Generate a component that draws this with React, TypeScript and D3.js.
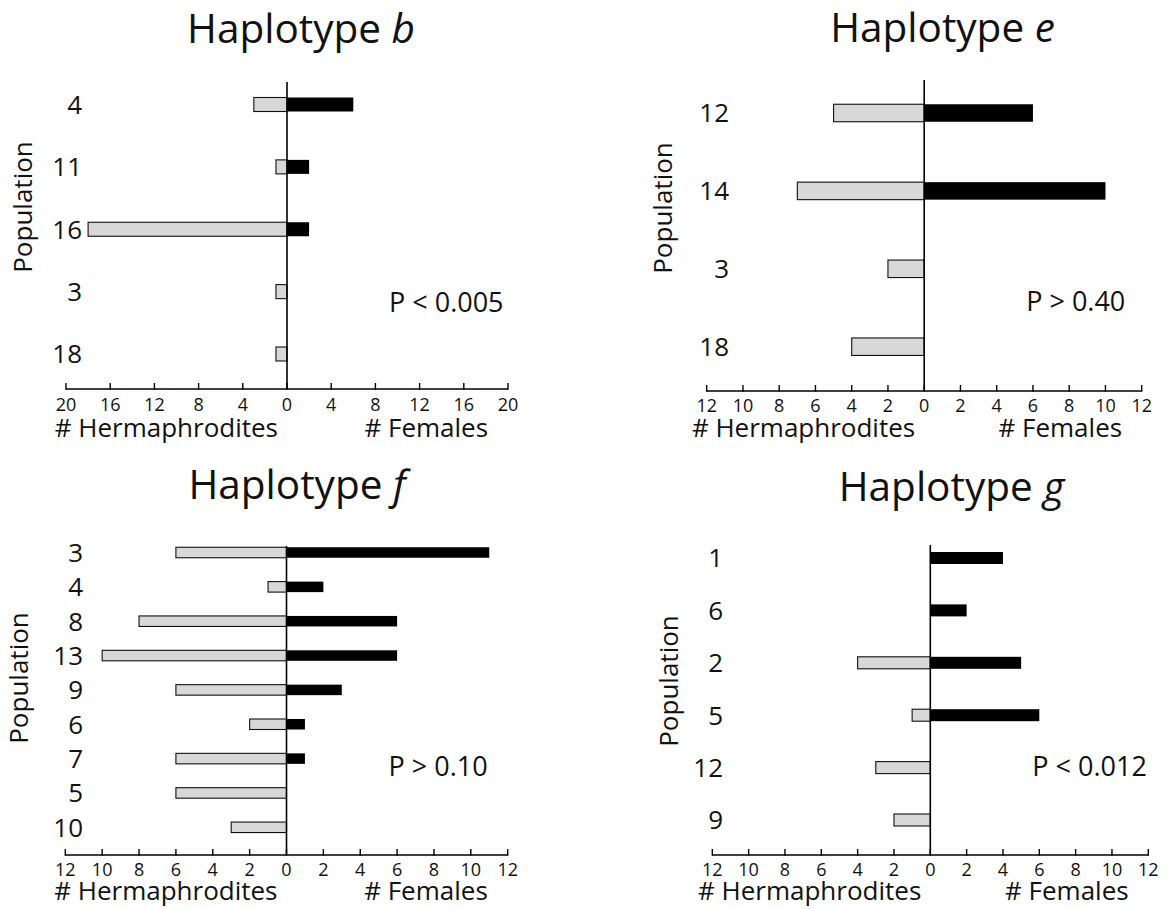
import React from "react";
import * as d3 from "d3";

// ---- data ----
const bPops = ["4", "11", "16", "3", "18"];
const bHerm = [3, 1, 18, 1, 1];
const bFem = [6, 2, 2, 0, 0];

const ePops = ["12", "14", "3", "18"];
const eHerm = [5, 7, 2, 4];
const eFem = [6, 10, 0, 0];

const fPops = ["3", "4", "8", "13", "9", "6", "7", "5", "10"];
const fHerm = [6, 1, 8, 10, 6, 2, 6, 6, 3];
const fFem = [11, 2, 6, 6, 3, 1, 1, 0, 0];

const gPops = ["1", "6", "2", "5", "12", "9"];
const gHerm = [0, 0, 4, 1, 3, 2];
const gFem = [4, 2, 5, 6, 0, 0];

const ticks20 = [-20, -16, -12, -8, -4, 0, 4, 8, 12, 16, 20];
const ticks12 = [-12, -10, -8, -6, -4, -2, 0, 2, 4, 6, 8, 10, 12];

const FONT = "'Open Sans', 'DejaVu Sans', sans-serif";

type PanelProps = {
  letter: string;
  pops: string[];
  herm: number[];
  fem: number[];
  ticks: number[];
  maxV: number;
  pText: string;
  x0: number; // axis left px
  x1: number; // axis right px
  yFirst: number;
  yLast: number;
  barH: number;
  lineTop: number;
  axisY: number;
  titleX: number;
  titleY: number;
  catRight: number;
  popX: number;
  popY: number;
  tickLabelY: number;
  axisTitleY: number;
  pY: number;
};

function Panel(p: PanelProps) {
  const x = d3.scaleLinear().domain([-p.maxV, p.maxV]).range([p.x0, p.x1]);
  const y = d3.scalePoint<string>().domain(p.pops).range([p.yFirst, p.yLast]);
  const zx = x(0);
  const half = x(p.maxV) - zx;
  return (
    <g>
      <text
        x={p.titleX}
        y={p.titleY}
        textAnchor="middle"
        fontFamily={FONT}
        fontSize={40.5}
        fill="#111"
      >
        Haplotype <tspan fontStyle="italic">{p.letter}</tspan>
      </text>
      {/* bars */}
      {p.pops.map((c, i) => {
        const cy = y(c) as number;
        return (
          <g key={c + i}>
            {p.herm[i] > 0 && (
              <rect
                x={x(-p.herm[i])}
                y={cy - p.barH / 2}
                width={zx - x(-p.herm[i])}
                height={p.barH}
                fill="#d8d8d8"
                stroke="#111"
                strokeWidth={1.1}
              />
            )}
            {p.fem[i] > 0 && (
              <rect
                x={zx}
                y={cy - p.barH / 2}
                width={x(p.fem[i]) - zx}
                height={p.barH}
                fill="#000"
              />
            )}
            <text
              x={p.catRight}
              y={cy}
              dy="0.36em"
              textAnchor="end"
              fontFamily={FONT}
              fontSize={26}
              fill="#111"
            >
              {c}
            </text>
          </g>
        );
      })}
      {/* zero line */}
      <line x1={zx} x2={zx} y1={p.lineTop} y2={p.axisY} stroke="#000" strokeWidth={1.6} />
      {/* axis */}
      <line x1={p.x0} x2={p.x1} y1={p.axisY} y2={p.axisY} stroke="#000" strokeWidth={1.6} />
      {p.ticks.map((t) => (
        <g key={t}>
          <line x1={x(t)} x2={x(t)} y1={p.axisY - 6} y2={p.axisY + 0.8} stroke="#000" strokeWidth={1.4} />
          <text
            x={x(t)}
            y={p.tickLabelY}
            textAnchor="middle"
            fontFamily={FONT}
            fontSize={18}
            fill="#111"
          >
            {Math.abs(t)}
          </text>
        </g>
      ))}
      <text
        x={zx - 9}
        y={p.axisTitleY}
        textAnchor="end"
        fontFamily={FONT}
        fontSize={26}
        fill="#111"
      >
        # Hermaphrodites
      </text>
      <text
        x={zx + half * 0.91}
        y={p.axisTitleY}
        textAnchor="end"
        fontFamily={FONT}
        fontSize={26}
        fill="#111"
      >
        # Females
      </text>
      <text
        transform={`translate(${p.popX},${p.popY}) rotate(-90)`}
        textAnchor="middle"
        fontFamily={FONT}
        fontSize={26}
        fill="#111"
      >
        Population
      </text>
      <text x={zx + 102} y={p.pY} fontFamily={FONT} fontSize={27} fill="#111">
        {p.pText}
      </text>
    </g>
  );
}

export default function App() {
  return (
    <svg
      width={1173}
      height={909}
      style={{ position: "absolute", left: 0, top: 0, background: "#fff" }}
    >
      <rect width={1173} height={909} fill="#fff" />
      <Panel
        letter="b"
        pops={bPops}
        herm={bHerm}
        fem={bFem}
        ticks={ticks20}
        maxV={20}
        pText="P < 0.005"
        x0={66}
        x1={508}
        yFirst={104.5}
        yLast={354}
        barH={14}
        lineTop={82}
        axisY={389}
        titleX={301}
        titleY={42.7}
        catRight={82}
        popX={32}
        popY={207}
        tickLabelY={411}
        axisTitleY={437}
        pY={312}
      />
      <Panel
        letter="e"
        pops={ePops}
        herm={eHerm}
        fem={eFem}
        ticks={ticks12}
        maxV={12}
        pText="P > 0.40"
        x0={706.7}
        x1={1141.7}
        yFirst={113}
        yLast={346.7}
        barH={17.5}
        lineTop={80}
        axisY={391}
        titleX={942.5}
        titleY={41.7}
        catRight={729}
        popX={672}
        popY={208}
        tickLabelY={412}
        axisTitleY={437}
        pY={311}
      />
      <Panel
        letter="f"
        pops={fPops}
        herm={fHerm}
        fem={fFem}
        ticks={ticks12}
        maxV={12}
        pText="P > 0.10"
        x0={65.3}
        x1={507.7}
        yFirst={552.5}
        yLast={827.3}
        barH={10.5}
        lineTop={546}
        axisY={855}
        titleX={297}
        titleY={499}
        catRight={83}
        popX={28}
        popY={678}
        tickLabelY={876}
        axisTitleY={900}
        pY={776}
      />
      <Panel
        letter="g"
        pops={gPops}
        herm={gHerm}
        fem={gFem}
        ticks={ticks12}
        maxV={12}
        pText="P < 0.012"
        x0={712.3}
        x1={1148.3}
        yFirst={558}
        yLast={820}
        barH={12}
        lineTop={545}
        axisY={855}
        titleX={951.5}
        titleY={500.7}
        catRight={723}
        popX={678}
        popY={681}
        tickLabelY={876}
        axisTitleY={900}
        pY={776}
      />
    </svg>
  );
}
